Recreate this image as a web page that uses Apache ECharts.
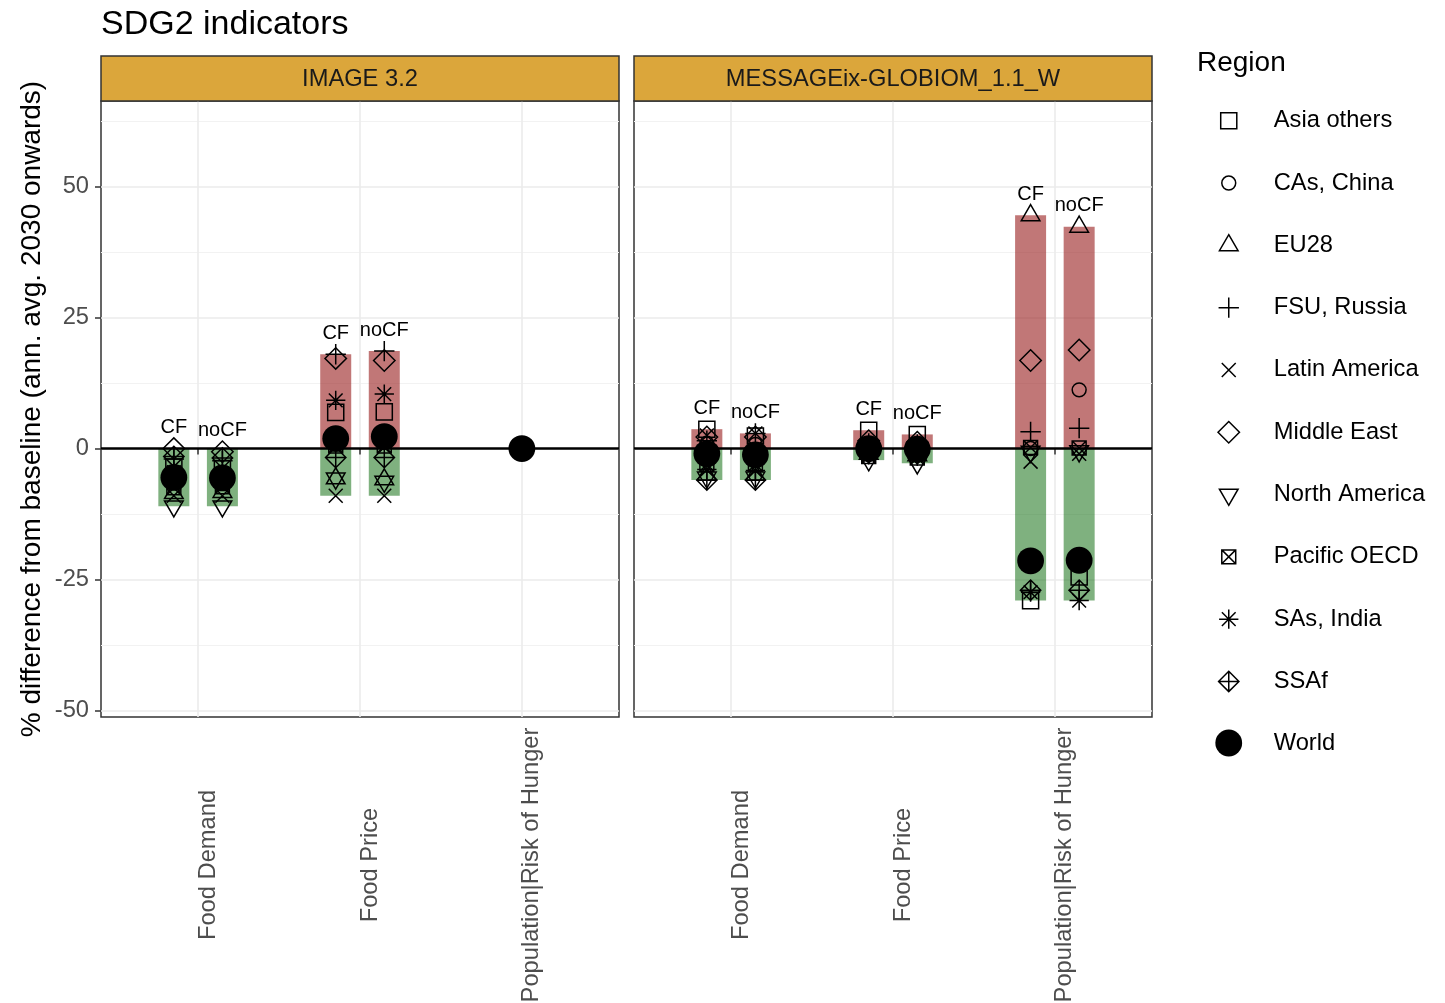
<!DOCTYPE html>
<html>
<head>
<meta charset="utf-8">
<title>SDG2 indicators</title>
<script src="https://cdn.jsdelivr.net/npm/echarts@6/dist/echarts.min.js"></script>
<style>
  html, body { margin: 0; padding: 0; background: #fff; }
  #chart { width: 1445px; height: 1003px; }
</style>
</head>
<body>
<div id="chart"></div>
<script>
// ---- data -----------------------------------------------------------------
const MODELS = ['IMAGE 3.2', 'MESSAGEix-GLOBIOM_1.1_W'];
const VARIABLES = ['Food Demand', 'Food Price', 'Population|Risk of Hunger'];
const REGIONS = ['Asia others', 'CAs, China', 'EU28', 'FSU, Russia', 'Latin America',
                 'Middle East', 'North America', 'Pacific OECD', 'SAs, India', 'SSAf', 'World'];
const Y_TICKS = [-50, -25, 0, 25, 50];
const Y_MINOR_TICKS = [-37.5, -12.5, 12.5, 37.5, 62.5];

// % difference from baseline, one value per region in REGIONS order
const IMAGE_FOOD_DEMAND_CF     = [-3.5, -6.5, -8.5, -2.0, -9.0,  0.0, -11.0, -7.5, -4.5, -1.5, -5.5];
const IMAGE_FOOD_DEMAND_NOCF   = [-3.8, -6.3, -8.3, -2.3, -9.0, -0.6, -11.0, -7.3, -4.8, -1.8, -5.6];
const IMAGE_FOOD_PRICE_CF      = [ 6.9,  1.2, -5.7, 18.0, -9.0, 17.2,  -5.7,  0.5,  9.2, -1.7,  1.9];
const IMAGE_FOOD_PRICE_NOCF    = [ 7.0,  1.5, -5.9, 18.6, -9.0, 16.8,  -6.3,  0.5, 10.4, -1.7,  2.3];
const IMAGE_RISK_OF_HUNGER     = [null, null, null, null, null, null,  null, null, null, null,  0.0];
const MESSAGE_FOOD_DEMAND_CF   = [ 3.7,  1.0, -5.0,  1.5,  2.5,  2.2,  -5.5, -3.0, -4.0, -6.0, -1.0];
const MESSAGE_FOOD_DEMAND_NOCF = [ 2.4,  0.8, -5.0,  2.9,  2.9,  2.2,  -5.5, -3.0, -4.2, -6.0, -1.2];
const MESSAGE_FOOD_PRICE_CF    = [ 3.5,  0.5, -1.0,  1.0, -0.5,  1.5,  -2.2, -1.5, -1.2, -0.8,  0.0];
const MESSAGE_FOOD_PRICE_NOCF  = [ 2.7,  0.3, -1.3,  0.8, -0.8,  1.2,  -2.8, -1.8, -1.5, -1.0, -0.1];
const MESSAGE_HUNGER_CF        = [-29.0,  0.0, 44.5, 3.2, -2.5, 16.8, -0.6, 0.2, -27.4, -27.0, -21.4];
const MESSAGE_HUNGER_NOCF      = [-24.5, 11.2, 42.3, 3.9, -1.0, 18.8, -0.5, 0.1, -29.0, -27.0, -21.3];

// [model, variable, scenario, values]
const ROWS = [
  [MODELS[0], VARIABLES[0], 'CF',   IMAGE_FOOD_DEMAND_CF],
  [MODELS[0], VARIABLES[0], 'noCF', IMAGE_FOOD_DEMAND_NOCF],
  [MODELS[0], VARIABLES[1], 'CF',   IMAGE_FOOD_PRICE_CF],
  [MODELS[0], VARIABLES[1], 'noCF', IMAGE_FOOD_PRICE_NOCF],
  [MODELS[0], VARIABLES[2], '',     IMAGE_RISK_OF_HUNGER],
  [MODELS[1], VARIABLES[0], 'CF',   MESSAGE_FOOD_DEMAND_CF],
  [MODELS[1], VARIABLES[0], 'noCF', MESSAGE_FOOD_DEMAND_NOCF],
  [MODELS[1], VARIABLES[1], 'CF',   MESSAGE_FOOD_PRICE_CF],
  [MODELS[1], VARIABLES[1], 'noCF', MESSAGE_FOOD_PRICE_NOCF],
  [MODELS[1], VARIABLES[2], 'CF',   MESSAGE_HUNGER_CF],
  [MODELS[1], VARIABLES[2], 'noCF', MESSAGE_HUNGER_NOCF]
];

// ---- layout & style -------------------------------------------------------
const FONT = '"Liberation Sans", Arial, sans-serif';
const PANEL_LEFT = [101, 634];
const PANEL_TOP = 101, PANEL_W = 518, PANEL_H = 616;
const STRIP_TOP = 56, STRIP_H = 45;
const Y_MIN = -51.2, Y_MAX = 66.3;
const DODGE = 0.3;
const LABEL_LIFT = 4;
const SYMBOL_BOX = 30;

// point shapes drawn in a common 28x28 frame (corner moves keep the frame size)
const FRAME = 'M0,0M28,28';
const SHAPES = [
  'M6.5,6.5L21.5,6.5L21.5,21.5L6.5,21.5Z',                                          // square
  'M7.5,14A6.5,6.5,0,1,1,20.5,14A6.5,6.5,0,1,1,7.5,14Z',                            // circle
  'M14,4L22.7,19L5.3,19Z',                                                          // triangle
  'M14,4.5L14,23.5M4.5,14L23.5,14',                                                 // plus
  'M7.5,7.5L20.5,20.5M20.5,7.5L7.5,20.5',                                           // cross
  'M14,4L24,14L14,24L4,14Z',                                                        // diamond
  'M14,24L22.7,9L5.3,9Z',                                                           // triangle down
  'M7.5,7.5L20.5,7.5L20.5,20.5L7.5,20.5ZM7.5,7.5L20.5,20.5M20.5,7.5L7.5,20.5',      // boxed cross
  'M14,5L14,23M5,14L23,14M7.6,7.6L20.4,20.4M20.4,7.6L7.6,20.4',                     // asterisk
  'M14,4.5L23.5,14L14,23.5L4.5,14ZM14,4.5L14,23.5M4.5,14L23.5,14',                  // diamond plus
  'M1.5,14A12.5,12.5,0,1,1,26.5,14A12.5,12.5,0,1,1,1.5,14Z'                         // filled dot
].map(p => 'path://' + FRAME + p);
const FILLED = REGIONS.map(r => r === 'World');

// ---- dodge positions and bar extents ---------------------------------------
const placed = ROWS.map(row => {
  const group = ROWS.filter(r => r[0] === row[0] && r[1] === row[1]);
  const k = group.indexOf(row), n = group.length;
  const x = VARIABLES.indexOf(row[1]) + 1 + (n > 1 ? (k / (n - 1) - 0.5) * DODGE : 0);
  const vals = row[3].filter(v => v !== null);
  return { model: row[0], scenario: row[2], values: row[3], x,
           hi: Math.max(...vals), lo: Math.min(...vals) };
});

const series = [];
MODELS.forEach((model, mi) => {
  const rows = placed.filter(p => p.model === model);
  const axes = { xAxisIndex: mi, yAxisIndex: mi * 2 };
  series.push({
    type: 'bar', name: 'increase', ...axes, barWidth: 31, barGap: '-100%', z: 2, silent: true,
    itemStyle: { color: 'rgba(152,28,28,0.6)' },
    data: rows.filter(p => p.hi > 0).map(p => [p.x, p.hi]),
    markLine: {
      silent: true, symbol: ['none', 'none'], z: 5, label: { show: false },
      lineStyle: { color: '#000', width: 2.5, type: 'solid', opacity: 1 },
      emphasis: { disabled: true },
      data: [{ yAxis: 0 }]
    }
  });
  series.push({
    type: 'bar', name: 'decrease', ...axes, barWidth: 31, barGap: '-100%', z: 2, silent: true,
    itemStyle: { color: 'rgba(0,100,0,0.5)' },
    data: rows.filter(p => p.lo < 0).map(p => [p.x, p.lo])
  });
  REGIONS.forEach((region, ri) => {
    series.push({
      type: 'scatter', name: region, ...axes, z: 10, silent: true,
      symbol: SHAPES[ri], symbolSize: SYMBOL_BOX,
      itemStyle: FILLED[ri]
        ? { color: '#000', borderWidth: 0, opacity: 1 }
        : { color: 'rgba(0,0,0,0)', borderColor: '#000', borderWidth: 1.5, opacity: 1 },
      emphasis: { disabled: true },
      data: rows.filter(p => p.values[ri] !== null).map(p => [p.x, p.values[ri]])
    });
  });
  series.push({
    type: 'scatter', name: 'scenario', ...axes, z: 11, silent: true,
    symbol: 'circle', symbolSize: 1, itemStyle: { color: 'rgba(0,0,0,0)', opacity: 1 },
    label: { show: true, position: 'inside', formatter: '{b}', fontSize: 20, color: '#000', fontFamily: FONT },
    emphasis: { disabled: true },
    data: rows.filter(p => p.scenario).map(p => ({ name: p.scenario, value: [p.x, p.hi + LABEL_LIFT] }))
  });
});

const tickText = { fontSize: 23.7, color: '#4d4d4d', fontFamily: FONT };
const option = {
  animation: false,
  backgroundColor: '#fff',
  textStyle: { fontFamily: FONT },
  title: [
    { text: 'SDG2 indicators', left: 101, top: 8, padding: 0,
      textStyle: { fontSize: 34, fontWeight: 'normal', color: '#000', fontFamily: FONT } },
    { text: 'Region', left: 1197, top: 49, padding: 0,
      textStyle: { fontSize: 28, fontWeight: 'normal', color: '#000', fontFamily: FONT } }
  ],
  legend: {
    orient: 'vertical', left: 1213, top: 105, padding: 0,
    itemWidth: 80, itemHeight: SYMBOL_BOX, itemGap: 30.8, selectedMode: false,
    itemStyle: { borderWidth: 1.5, opacity: 1 },
    textStyle: { fontSize: 23.7, color: '#000', fontFamily: FONT },
    data: REGIONS.map((r, i) => ({ name: r, icon: SHAPES[i],
      itemStyle: FILLED[i] ? { borderWidth: 0 } : {} }))
  },
  grid: PANEL_LEFT.map(left => ({
    left, top: PANEL_TOP, width: PANEL_W, height: PANEL_H, outerBoundsMode: 'none',
    show: true, borderColor: '#333', borderWidth: 1.5, backgroundColor: 'rgba(0,0,0,0)'
  })),
  xAxis: MODELS.map((m, mi) => ({
    type: 'value', gridIndex: mi, min: 0.4, max: 3.6,
    axisLine: { show: false },
    axisTick: { show: true, length: 6, customValues: [1, 2, 3], lineStyle: { color: '#333', width: 1.5 } },
    axisLabel: { ...tickText, customValues: [1, 2, 3], formatter: v => VARIABLES[Math.round(v) - 1],
                 rotate: 90, align: 'center', verticalAlign: 'top', lineHeight: 20, margin: 148 },
    splitLine: { show: true, lineStyle: { color: '#ebebeb', width: 1.6 } }
  })),
  yAxis: MODELS.flatMap((m, mi) => [
    {
      type: 'value', gridIndex: mi, min: Y_MIN, max: Y_MAX,
      axisLine: { show: false },
      axisTick: { show: mi === 0, length: 6, customValues: Y_TICKS, lineStyle: { color: '#333', width: 1.5 } },
      axisLabel: { ...tickText, show: mi === 0, customValues: Y_TICKS, margin: 12 },
      splitLine: { show: true, lineStyle: { color: '#ebebeb', width: 1.6 } },
      name: mi === 0 ? '% difference from baseline (ann. avg. 2030 onwards)' : '',
      nameLocation: 'middle', nameGap: 55,
      nameTextStyle: { fontSize: 28, color: '#000', fontFamily: FONT }
    },
    {
      type: 'value', gridIndex: mi, min: Y_MIN, max: Y_MAX,
      axisLine: { show: false },
      axisTick: { show: false, customValues: Y_MINOR_TICKS },
      axisLabel: { show: false, customValues: Y_MINOR_TICKS },
      splitLine: { show: true, lineStyle: { color: '#f2f2f2', width: 1 } }
    }
  ]),
  graphic: MODELS.flatMap((m, mi) => [
    { type: 'rect', z: 100,
      shape: { x: PANEL_LEFT[mi], y: STRIP_TOP, width: PANEL_W, height: STRIP_H },
      style: { fill: '#dba63b', stroke: '#333', lineWidth: 1.5 } },
    { type: 'text', z: 101, x: PANEL_LEFT[mi] + PANEL_W / 2, y: STRIP_TOP + STRIP_H / 2 + 1,
      style: { text: m, fontSize: 23.7, fontFamily: FONT, fill: '#1a1a1a', align: 'center', verticalAlign: 'middle' } }
  ]),
  series
};

const chart = echarts.init(document.getElementById('chart'), null, { renderer: 'canvas' });
chart.setOption(option);
</script>
</body>
</html>
